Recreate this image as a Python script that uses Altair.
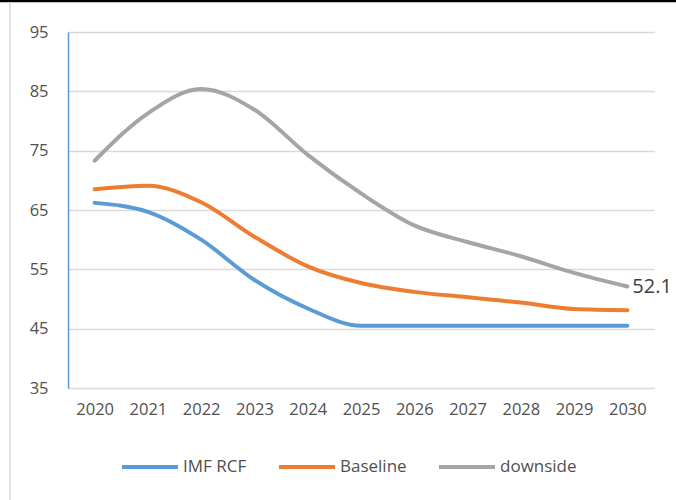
import altair as alt
import pandas as pd

years = [str(y) for y in range(2020, 2031)]
imf_rcf = [66.2, 64.7, 60.0, 53.2, 48.4, 45.5, 45.5, 45.5, 45.5, 45.5, 45.5]
baseline = [68.5, 69.1, 66.3, 60.5, 55.5, 52.7, 51.2, 50.3, 49.4, 48.3, 48.1]
downside = [73.3, 81.3, 85.4, 81.9, 74.3, 67.8, 62.4, 59.6, 57.2, 54.4, 52.1]
series = ["IMF RCF", "Baseline", "downside"]
colors = ["#5B9BD5", "#ED7D31", "#A5A5A5"]
y_ticks = [35, 45, 55, 65, 75, 85, 95]

FONT = "Open Sans"

rows = []
for name, vals in zip(series, [imf_rcf, baseline, downside]):
    for yr, v in zip(years, vals):
        rows.append({"year": yr, "value": v, "series": name})
df = pd.DataFrame(rows)

last = pd.DataFrame({"year": [years[-1]], "value": [downside[-1]], "label": [f"{downside[-1]:.1f}"]})

x_enc = alt.X("year:N", sort=years, title=None,
              scale=alt.Scale(type="point", padding=0.5),
              axis=alt.Axis(domain=False, ticks=False, grid=False, labelAngle=0,
                            labelPadding=13, labelFont=FONT, labelFontSize=16.5,
                            labelColor="#505050"))
y_enc = alt.Y("value:Q", title=None,
              scale=alt.Scale(domain=[35, 95], nice=False, zero=False),
              axis=alt.Axis(values=y_ticks, ticks=False, domainColor="#5B9BD5",
                            domainWidth=1.5, gridColor="#D9D9D9", gridWidth=1.3,
                            labelPadding=20, labelFont=FONT, labelFontSize=16.5,
                            labelColor="#505050"))

lines = alt.Chart(df).mark_line(strokeWidth=4, interpolate="monotone", strokeCap="round").encode(
    x=x_enc,
    y=y_enc,
    color=alt.Color("series:N", sort=series,
                    scale=alt.Scale(domain=series, range=colors),
                    legend=alt.Legend(title=None, orient="none", legendX=52, legendY=405,
                                      direction="horizontal", columns=3,
                                      symbolType="stroke", symbolStrokeWidth=4,
                                      symbolSize=3136, labelOffset=3, columnPadding=24,
                                      labelFont=FONT, labelFontSize=17,
                                      labelColor="#505050")),
)

label = alt.Chart(last).mark_text(align="left", baseline="middle", dx=5, dy=0,
                                  font=FONT, fontSize=20, color="#404040").encode(
    x=alt.X("year:N", sort=years),
    y=alt.Y("value:Q"),
    text="label:N",
)

top_border = alt.Chart(last).mark_rule(color="black", strokeWidth=2.5).encode(
    x=alt.value(-68), x2=alt.value(608), y=alt.value(-31))
left_border = alt.Chart(last).mark_rule(color="#D9D9D9", strokeWidth=1.5).encode(
    x=alt.value(-58), y=alt.value(-30), y2=alt.value(468))

chart = alt.layer(lines, label, top_border, left_border).properties(
    width=586, height=356,
    padding={"left": 68, "top": 32, "right": 22, "bottom": 112},
    autosize=alt.AutoSizeParams(type="none"),
    background="white",
).configure_view(stroke=None)

chart.save("out.html", embed_options={"renderer": "svg", "actions": False})
